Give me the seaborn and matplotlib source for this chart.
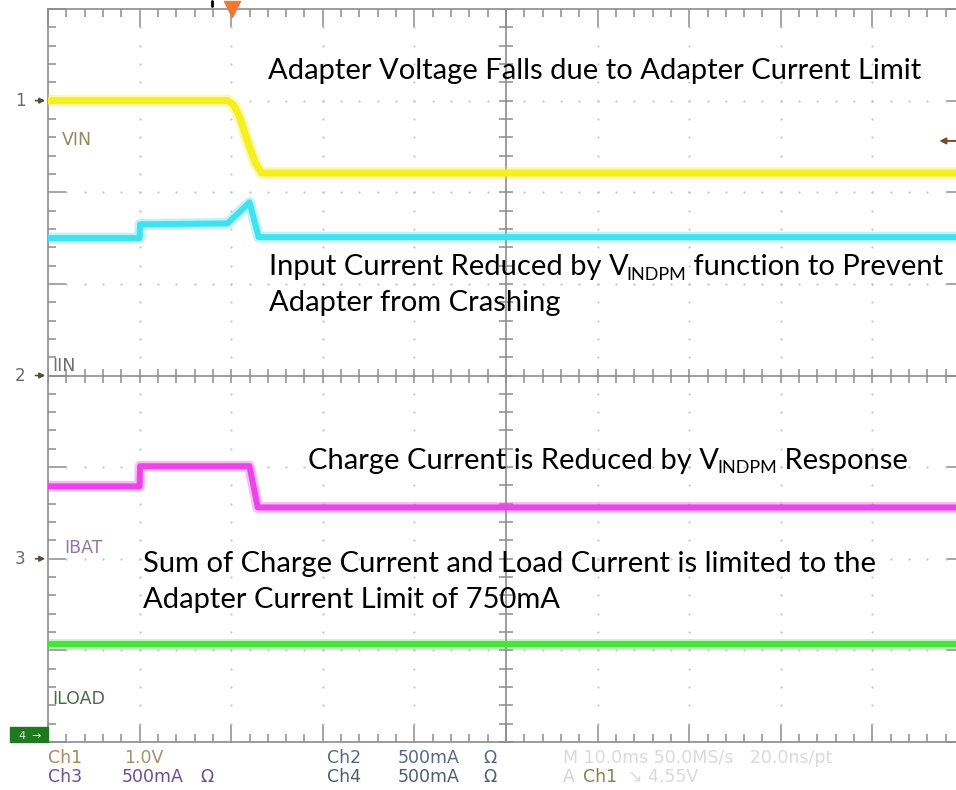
import numpy as np
import matplotlib
matplotlib.use("Agg")
import matplotlib.pyplot as plt
import seaborn as sns
from matplotlib.patches import Rectangle

# time in ms (10 ms/div), level in screen divisions (screen centre = 0)
vin_t = [0, 19.6, 20.3, 21.0, 21.8, 22.6, 23.3, 100]
vin_v = [3.0, 3.0, 2.95, 2.80, 2.55, 2.33, 2.21, 2.21]
iin_t = [0, 10.0, 10.05, 19.6, 22.0, 23.0, 100]
iin_v = [1.50, 1.50, 1.65, 1.66, 1.89, 1.51, 1.51]
ibat_t = [0, 10.0, 10.05, 22.0, 22.9, 100]
ibat_v = [-1.21, -1.21, -0.99, -0.99, -1.44, -1.44]
iload_t = [0, 100]
iload_v = [-2.93, -2.93]

trace_names = ["VIN", "IIN", "IBAT", "ILOAD"]
trace_colors = ["#F6EE1E", "#3FE2EE", "#EA45E6", "#45E63C"]
label_colors = ["#8E8A62", "#6E6E6E", "#8E7C9E", "#4E6A4E"]
label_pos = [(1.5, 2.57), (0.45, 0.10), (1.75, -1.88), (0.45, -3.53)]
marker_levels = [3.0, 0.0, -2.0]

# (x, y, text before subscript, subscript, text after)
notes = [
    (24.0, 3.32, "Adapter Voltage Falls due to Adapter Current Limit", "", ""),
    (24.1, 1.18, "Input Current Reduced by V", "INDPM", " function to Prevent"),
    (24.1, 0.79, "Adapter from Crashing", "", ""),
    (28.4, -0.93, "Charge Current is Reduced by V", "INDPM", " Response"),
    (10.4, -2.06, "Sum of Charge Current and Load Current is limited to the", "", ""),
    (10.4, -2.45, "Adapter Current Limit of 750mA", "", ""),
]

sns.set_style("white")
plt.rcParams["font.family"] = ["Lato", "DejaVu Sans"]

W, H = 956, 790
fig = plt.figure(figsize=(W / 100, H / 100), dpi=100)
ax = fig.add_axes([48 / W, 1 - 742 / H, 916 / W, 733 / H])
ax.set_xlim(0, 100)
ax.set_ylim(-4, 4)
renderer = fig.canvas.get_renderer()

grid_c = "#8C8C8C"
# dotted graticule
for gx in range(10, 100, 10):
    if gx == 50:
        continue
    ys = np.arange(-4, 4.01, 0.2)
    ax.scatter(np.full_like(ys, gx), ys, s=2.5, color="#C4C4C4", lw=0, zorder=1)
for gy in range(-3, 4):
    if gy == 0:
        continue
    xs = np.arange(0, 100.1, 2)
    ax.scatter(xs, np.full_like(xs, gy), s=2.5, color="#C4C4C4", lw=0, zorder=1)

# centre cross with ticks
ax.axvline(50, color=grid_c, lw=1.2, zorder=1)
ax.axhline(0, color=grid_c, lw=1.2, zorder=1)
ty = np.arange(-4, 4.01, 0.2)
ax.plot(np.full_like(ty, 50), ty, ls="none", marker="_", ms=10, mew=1.1, color=grid_c, zorder=1)
tx = np.arange(0, 100.1, 2)
ax.plot(tx, np.zeros_like(tx), ls="none", marker="|", ms=10, mew=1.1, color=grid_c, zorder=1)

# traces
series = [(vin_t, vin_v), (iin_t, iin_v), (ibat_t, ibat_v), (iload_t, iload_v)]
widths = [5.0, 4.3, 4.3, 4.3]
for (t, v), c, w in zip(series, trace_colors, widths):
    sns.lineplot(x=t, y=v, ax=ax, color=c, lw=w + 3.5, alpha=0.35, estimator=None, sort=False, zorder=3)
    sns.lineplot(x=t, y=v, ax=ax, color=c, lw=w, estimator=None, sort=False, zorder=4)

# channel names inside the screen
for name, c, (lx, ly) in zip(trace_names, label_colors, label_pos):
    ax.text(lx, ly, name, color=c, fontsize=12.5, family="DejaVu Sans", va="center", ha="left", zorder=5)

# annotations, subscripts placed after the measured main text
size = 21
for nx, ny, pre, sub, post in notes:
    t = ax.text(nx, ny, pre, fontsize=size, color="black", va="center", ha="left", zorder=6)
    if not sub:
        continue
    off = t.get_window_extent(renderer).width * 72 / fig.dpi
    s = ax.annotate(sub, xy=(nx, ny), xytext=(off - 1.5, -5.5), textcoords="offset points",
                    fontsize=13, color="black", va="center", ha="left", zorder=6)
    off += s.get_window_extent(renderer).width * 72 / fig.dpi - 1.5
    ax.annotate(post, xy=(nx, ny), xytext=(off, 0), textcoords="offset points",
                fontsize=size, color="black", va="center", ha="left", zorder=6)

# frame ticks
ax.set_xticks(np.arange(0, 101, 10))
ax.set_xticks(np.arange(0, 101, 2), minor=True)
ax.set_yticks(np.arange(-4, 5, 1))
ax.set_yticks(np.arange(-4, 4.01, 0.2), minor=True)
ax.tick_params(which="both", direction="in", top=True, right=True, bottom=True, left=True,
               labelbottom=False, labelleft=False, color=grid_c, width=1.1)
ax.tick_params(which="major", length=13)
ax.tick_params(which="minor", length=5.5)
for sp in ax.spines.values():
    sp.set_color(grid_c)
    sp.set_linewidth(1.2)
ax.set_xlabel("")
ax.set_ylabel("")

# channel ground markers on the left
for i, lvl in enumerate(marker_levels):
    ax.annotate("", xy=(0, lvl), xycoords=("axes fraction", "data"),
                xytext=(-11, 0), textcoords="offset points",
                arrowprops=dict(arrowstyle="-|>", color="#5A4A3A", lw=1.2, mutation_scale=8),
                annotation_clip=False)
    ax.annotate(str(i + 1), xy=(0, lvl), xycoords=("axes fraction", "data"),
                xytext=(-20, 0), textcoords="offset points", ha="center", va="center",
                fontsize=12, family="DejaVu Sans", color="#6A6A6A", annotation_clip=False)
fig.patches.append(Rectangle((10 / W, 1 - 742 / H), 38 / W, 15 / H, transform=fig.transFigure,
                             color="#1F7A1F", zorder=5))
fig.text(22 / W, 1 - 736 / H, "4", fontsize=8, family="DejaVu Sans", color="#D8E8D8",
         ha="center", va="center", zorder=6)
fig.text(36 / W, 1 - 736 / H, "\u2192", fontsize=8, family="DejaVu Sans", color="#D8E8D8",
         ha="center", va="center", zorder=6)

# trigger markers
ax.plot([20.1], [4.0], marker="v", ms=11, color="#EE7A32", clip_on=False, zorder=7)
ax.plot([17.9, 17.9], [4.03, 4.09], color="black", lw=2, clip_on=False, zorder=7)
ax.annotate("", xy=(97.0, 2.56), xytext=(100.5, 2.56),
            arrowprops=dict(arrowstyle="-|>", color="#7A4A20", lw=1.4, mutation_scale=9),
            annotation_clip=False)

# scope status lines
status = [
    (48, 758, "Ch1", "#A48A5E"), (124, 758, "1.0V", "#A09468"),
    (327, 758, "Ch2", "#56688A"), (398, 758, "500mA", "#56688A"), (483, 758, "\u03a9", "#56688A"),
    (563, 758, "M 10.0ms 50.0MS/s   20.0ns/pt", "#DADADA"),
    (48, 777, "Ch3", "#6E4E8E"), (122, 777, "500mA", "#6E4E8E"), (200, 777, "\u03a9", "#6E4E8E"),
    (327, 777, "Ch4", "#4E5E6E"), (398, 777, "500mA", "#4E5E6E"), (483, 777, "\u03a9", "#4E5E6E"),
    (563, 777, "A", "#D4D4D4"), (583, 777, "Ch1", "#8E7E4E"), (628, 777, "\u2198 4.55V", "#DADADA"),
]
for px, py, s, c in status:
    fig.text(px / W, 1 - py / H, s, fontsize=12.5, family="DejaVu Sans", color=c,
             ha="left", va="center")

fig.savefig("out.png", dpi=100)
